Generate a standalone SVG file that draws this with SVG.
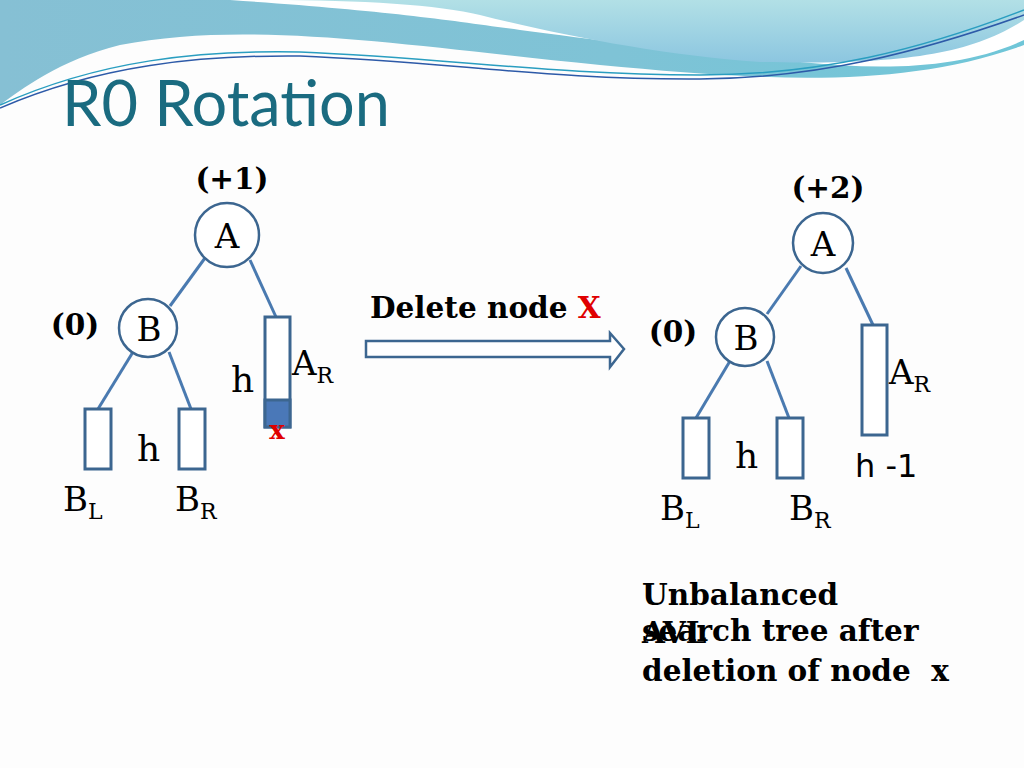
<svg xmlns="http://www.w3.org/2000/svg" width="1024" height="768" viewBox="0 0 1024 768">
<defs>
<linearGradient id="g1" x1="0" y1="0" x2="1" y2="0"><stop offset="0" stop-color="#86c0d4"/><stop offset="0.6" stop-color="#7fc3d6"/><stop offset="1" stop-color="#6fc6d8"/></linearGradient>
<linearGradient id="g2" x1="0" y1="0" x2="0" y2="1"><stop offset="0" stop-color="#b2e0e6"/><stop offset="1" stop-color="#8cc6e0"/></linearGradient>
<style>
.e{stroke:#4a7ab0;stroke-width:3;fill:none}
.n{fill:#fff;stroke:#3c6690;stroke-width:2.5}
.r{fill:#fff;stroke:#3c6690;stroke-width:3}
.s{font-family:"DejaVu Serif",serif;fill:#000}
.b{font-family:"DejaVu Serif",serif;font-weight:bold;fill:#000;font-size:29.5px}
</style>
</defs>
<rect width="1024" height="768" fill="#fdfdfd"/>
<path d="M0 0H1024V45C900 90 760 80 600 65C400 45 250 20 120 45C60 60 20 90 0 105Z" fill="url(#g1)"/>
<path d="M230 0H1024V40C960 70 880 70 800 62C700 55 600 40 520 30C450 20 380 10 230 0Z" fill="#fff"/>
<path d="M270 0H1024V20C970 55 900 65 760 62C660 55 560 35 480 15C440 5 360 0 270 0Z" fill="url(#g2)"/>
<path d="M0 105C100 60 200 50 300 52C450 58 550 75 700 75C820 75 920 50 1024 10" fill="none" stroke="#2a9ec0" stroke-width="1.5"/>
<path d="M0 108C100 65 200 55 300 56C450 62 550 80 700 79C820 78 920 52 1024 15" fill="none" stroke="#2d5aa8" stroke-width="1.5"/>
<text x="62" y="126" font-family="Lato,sans-serif" font-size="63" fill="#1a6b80">R0 Rotation</text>

<g id="connectors">
<line class="e" x1="205" y1="258" x2="170" y2="306"/>
<line class="e" x1="250" y1="260" x2="276" y2="317"/>
<line class="e" x1="133" y1="352" x2="98" y2="409"/>
<line class="e" x1="169" y1="352" x2="191" y2="409"/>
<line class="e" x1="801" y1="266" x2="767" y2="314"/>
<line class="e" x1="846" y1="268" x2="873" y2="325"/>
<line class="e" x1="730" y1="361" x2="696" y2="418"/>
<line class="e" x1="767" y1="361" x2="789" y2="418"/>
<path d="M366 341H610V333L624 349L610 367V357H366Z" fill="#fff" stroke="#3c6690" stroke-width="2.5"/>
</g>

<g id="left-tree">
<text class="b" x="232" y="189" text-anchor="middle" font-size="26">(+1)</text>
<g id="nA1"><circle class="n" cx="227" cy="235" r="32"/><text class="s" x="227" y="248" font-size="34" text-anchor="middle">A</text></g>
<text class="b" x="75" y="335" text-anchor="middle" font-size="26">(0)</text>
<g id="nB1"><circle class="n" cx="148" cy="328" r="29"/><text class="s" x="149" y="341" font-size="34" text-anchor="middle">B</text></g>
<g id="AR1"><rect class="r" x="265" y="317" width="25" height="110"/><rect x="265" y="400" width="25" height="27" fill="#4a78b8" stroke="#3c6690" stroke-width="3"/>
<text x="277" y="439" font-family="DejaVu Serif,serif" font-weight="bold" font-size="26" fill="#e00000" text-anchor="middle">x</text>
<text class="s" x="231" y="392" font-size="36">h</text>
<text class="s" x="292" y="375" font-size="34">A<tspan font-size="22" dy="8">R</tspan></text></g>
<g id="BL1"><rect class="r" x="85" y="409" width="26" height="60"/><text class="s" x="63" y="511" font-size="34">B<tspan font-size="22" dy="8">L</tspan></text></g>
<g id="BR1"><rect class="r" x="179" y="409" width="26" height="60"/><text class="s" x="175" y="511" font-size="34">B<tspan font-size="22" dy="8">R</tspan></text></g>
<text class="s" x="137" y="461" font-size="36">h</text>
</g>

<text class="b" x="370" y="318">Delete node <tspan fill="#e00000">X</tspan></text>

<g id="right-tree">
<text class="b" x="828" y="198" text-anchor="middle" font-size="26">(+2)</text>
<g id="nA2"><circle class="n" cx="823" cy="243" r="30"/><text class="s" x="823" y="256" font-size="34" text-anchor="middle">A</text></g>
<text class="b" x="673" y="342" text-anchor="middle" font-size="26">(0)</text>
<g id="nB2"><circle class="n" cx="745" cy="337" r="29"/><text class="s" x="746" y="350" font-size="34" text-anchor="middle">B</text></g>
<g id="AR2"><rect class="r" x="862" y="325" width="25" height="110"/><text class="s" x="889" y="384" font-size="34">A<tspan font-size="22" dy="8">R</tspan></text>
<text x="855" y="477" font-family="DejaVu Sans,sans-serif" font-size="32" fill="#000">h -1</text></g>
<g id="BL2"><rect class="r" x="683" y="418" width="26" height="60"/><text class="s" x="660" y="520" font-size="34">B<tspan font-size="22" dy="8">L</tspan></text></g>
<g id="BR2"><rect class="r" x="777" y="418" width="26" height="60"/><text class="s" x="789" y="520" font-size="34">B<tspan font-size="22" dy="8">R</tspan></text></g>
<text class="s" x="735" y="468" font-size="36">h</text>
</g>

<text class="b" x="642" y="605">Unbalanced</text>
<text class="b" x="642" y="643">AVL</text>
<text class="b" x="642" y="641">search tree after</text>
<text class="b" x="642" y="681">deletion of node&#160; x</text>
</svg>
